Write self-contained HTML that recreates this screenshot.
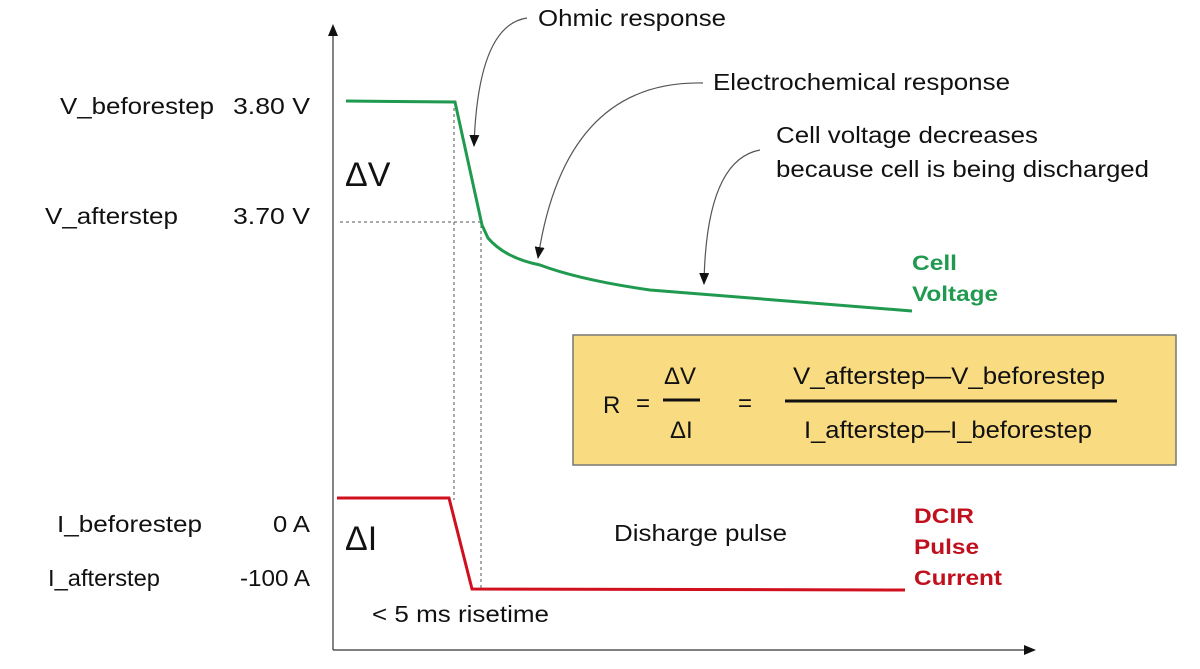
<!DOCTYPE html>
<html><head><meta charset="utf-8"><style>
body{margin:0;background:#fff}
svg{display:block;font-family:"Liberation Sans",Arial,sans-serif}
</style></head><body>
<svg width="1200" height="669" viewBox="0 0 1200 669">
<defs>
<marker id="a" markerWidth="12" markerHeight="10" refX="11" refY="5" orient="auto" markerUnits="userSpaceOnUse"><path d="M0,0 L12,5 L0,10 Z" fill="#111"/></marker>
</defs>
<line x1="333" y1="650" x2="333" y2="30" stroke="#333" stroke-width="1.2"/>
<path d="M328,36 L333,24 L338,36 Z" fill="#111"/>
<line x1="333" y1="650" x2="1030" y2="650" stroke="#333" stroke-width="1.2"/>
<path d="M1024,645 L1036,650 L1024,655 Z" fill="#111"/>
<g stroke="#555" stroke-width="1" stroke-dasharray="3,3" fill="none">
<line x1="340" y1="222" x2="482" y2="222"/>
<line x1="454" y1="108" x2="454" y2="500"/>
<line x1="481" y1="225" x2="481" y2="588"/>
</g>
<path d="M346,101 L455,102 L482,225 L488,238 Q505,258 540,265 Q580,280 650,290 L912,311" fill="none" stroke="#1f9a4f" stroke-width="3"/>
<path d="M337,498 L449,498 L472,589 L905,590" fill="none" stroke="#d0101e" stroke-width="3"/>
<g fill="none" stroke="#555" stroke-width="1.2">
<path d="M527,18 Q478,25 474,146" marker-end="url(#a)"/>
<path d="M703,83 Q565,80 538,258" marker-end="url(#a)"/>
<path d="M760,150 Q706,160 704,284" marker-end="url(#a)"/>
</g>
<g font-size="23" fill="#111">
<text x="538" y="26" textLength="188" lengthAdjust="spacingAndGlyphs">Ohmic response</text>
<text x="713" y="90" textLength="297" lengthAdjust="spacingAndGlyphs">Electrochemical response</text>
<text x="776" y="143" textLength="262" lengthAdjust="spacingAndGlyphs">Cell voltage decreases</text>
<text x="776" y="177" textLength="373" lengthAdjust="spacingAndGlyphs">because cell is being discharged</text>
<text x="60" y="114" textLength="154" lengthAdjust="spacingAndGlyphs">V_beforestep</text>
<text x="233" y="114" textLength="77" lengthAdjust="spacingAndGlyphs">3.80 V</text>
<text x="45" y="224" textLength="133" lengthAdjust="spacingAndGlyphs">V_afterstep</text>
<text x="233" y="224" textLength="77" lengthAdjust="spacingAndGlyphs">3.70 V</text>
<text x="57" y="532" textLength="145" lengthAdjust="spacingAndGlyphs">I_beforestep</text>
<text x="273" y="532" textLength="37" lengthAdjust="spacingAndGlyphs">0 A</text>
<text x="48" y="586" textLength="112" lengthAdjust="spacingAndGlyphs">I_afterstep</text>
<text x="240" y="586" textLength="70" lengthAdjust="spacingAndGlyphs">-100 A</text>
<text x="614" y="541" textLength="173" lengthAdjust="spacingAndGlyphs">Disharge pulse</text>
<text x="372" y="622" textLength="177" lengthAdjust="spacingAndGlyphs">&lt; 5 ms risetime</text>
<text x="345" y="186" font-size="34">ΔV</text>
<text x="345" y="550" font-size="34">ΔI</text>
</g>
<g font-size="21" font-weight="bold" fill="#1f9a4f">
<text x="912" y="270" textLength="45" lengthAdjust="spacingAndGlyphs">Cell</text><text x="912" y="301" textLength="86" lengthAdjust="spacingAndGlyphs">Voltage</text>
</g>
<g font-size="21" font-weight="bold" fill="#c0101e">
<text x="914" y="523" textLength="60" lengthAdjust="spacingAndGlyphs">DCIR</text><text x="914" y="554" textLength="65" lengthAdjust="spacingAndGlyphs">Pulse</text><text x="914" y="585" textLength="88" lengthAdjust="spacingAndGlyphs">Current</text>
</g>
<rect x="573" y="335" width="603" height="130" fill="#f9dc82" stroke="#777" stroke-width="1.5"/>
<g font-size="24" fill="#111">
<text x="603" y="413">R</text>
<text x="636" y="411">=</text>
<text x="664" y="384">ΔV</text>
<line x1="663" y1="400" x2="700" y2="400" stroke="#111" stroke-width="3"/>
<text x="670" y="438">ΔI</text>
<text x="738" y="411">=</text>
<text x="793" y="384" textLength="312" lengthAdjust="spacingAndGlyphs">V_afterstep—V_beforestep</text>
<line x1="785" y1="401" x2="1117" y2="401" stroke="#111" stroke-width="3"/>
<text x="804" y="438" textLength="288" lengthAdjust="spacingAndGlyphs">I_afterstep—I_beforestep</text>
</g>
</svg>
</body></html>
